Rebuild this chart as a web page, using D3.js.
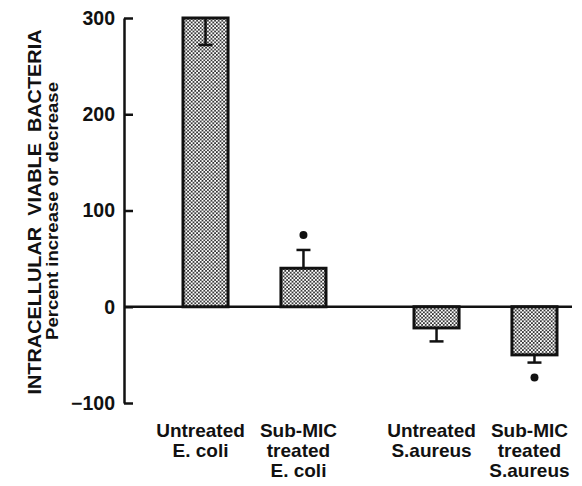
<!DOCTYPE html>
<html><head><meta charset="utf-8">
<script src="https://cdn.jsdelivr.net/npm/d3@7"></script>
<style>html,body{margin:0;padding:0;background:#fff;}svg{display:block;}</style>
</head><body>
<script>
// ---- data ----
const groups = ["E. coli", "S. aureus"];
const treatments = ["Untreated", "Sub-MIC treated"];
const categories = ["Untreated E. coli", "Sub-MIC treated E. coli", "Untreated S. aureus", "Sub-MIC treated S. aureus"];
const categoryGroup = ["E. coli", "E. coli", "S. aureus", "S. aureus"];
const categoryTreatment = ["Untreated", "Sub-MIC treated", "Untreated", "Sub-MIC treated"];
const values = [300, 40, -22, -50];
const errorEnds = [272, 59, -36, -58];
const significant = [false, true, false, true];
const labelLines = [["Untreated", "E. coli"], ["Sub-MIC", "treated", "E. coli"], ["Untreated", "S.aureus"], ["Sub-MIC", "treated", "S.aureus"]];
const yTicks = [-100, 0, 100, 200, 300];
const yTitle = "INTRACELLULAR  VIABLE  BACTERIA";
const ySubtitle = "Percent increase or decrease";

const W = 582, H = 486;
const svg = d3.select("body").append("svg").attr("width", W).attr("height", H);

const defs = svg.append("defs");
const pat = defs.append("pattern").attr("id", "stipple").attr("patternUnits", "userSpaceOnUse")
  .attr("width", 3.6).attr("height", 3.6);
pat.append("rect").attr("width", 3.6).attr("height", 3.6).attr("fill", "#fff");
pat.append("circle").attr("cx", 0.9).attr("cy", 0.9).attr("r", 0.95).attr("fill", "#1a1a1a");
pat.append("circle").attr("cx", 2.7).attr("cy", 2.7).attr("r", 0.95).attr("fill", "#1a1a1a");

const y = d3.scaleLinear().domain([-100, 300]).range([403, 18]);
const xGroup = d3.scaleBand().domain(groups).range([183, 557]).paddingInner(0.381).paddingOuter(0);
const xInner = d3.scaleBand().domain(treatments).range([0, xGroup.bandwidth()]).paddingInner(0.54).paddingOuter(0);
const xPos = i => xGroup(categoryGroup[i]) + xInner(categoryTreatment[i]);
const bw = xInner.bandwidth();
const axisX = 124;

// y axis
const yAxis = d3.axisLeft(y).tickValues(yTicks).tickSizeInner(-9).tickSizeOuter(0).tickPadding(9).tickFormat(d3.format("d"));
const gA = svg.append("g").attr("transform", `translate(${axisX},0)`).call(yAxis);
gA.select(".domain").attr("stroke", "#111").attr("stroke-width", 2.5);
gA.selectAll(".tick line").attr("stroke", "#111").attr("stroke-width", 2.5);
gA.selectAll(".tick text").attr("font-family", "Liberation Sans, Arial, sans-serif")
  .attr("font-weight", "bold").attr("font-size", 19.5).attr("fill", "#111");

// zero line
svg.append("line").attr("x1", axisX).attr("x2", 572).attr("y1", y(0)).attr("y2", y(0))
  .attr("stroke", "#111").attr("stroke-width", 2.5);

// bars
const idx = d3.range(categories.length);
svg.append("g").selectAll("rect").data(idx).join("rect")
  .attr("x", i => xPos(i)).attr("width", bw)
  .attr("y", i => Math.min(y(values[i]), y(0)))
  .attr("height", i => Math.abs(y(values[i]) - y(0)))
  .attr("fill", "url(#stipple)").attr("stroke", "#111").attr("stroke-width", 3);

// error bars
const eg = svg.append("g").attr("stroke", "#111").attr("stroke-width", 2.5);
idx.forEach(i => {
  const cx = xPos(i) + bw / 2;
  eg.append("line").attr("x1", cx).attr("x2", cx).attr("y1", y(values[i])).attr("y2", y(errorEnds[i]));
  eg.append("line").attr("x1", cx - 7).attr("x2", cx + 7).attr("y1", y(errorEnds[i])).attr("y2", y(errorEnds[i]));
  if (significant[i]) {
    const dir = errorEnds[i] >= values[i] ? -1 : 1;
    svg.append("circle").attr("cx", cx).attr("cy", y(errorEnds[i]) + dir * 15).attr("r", 4).attr("fill", "#111");
  }
});

// x labels
const lg = svg.append("g").attr("font-family", "Liberation Sans, Arial, sans-serif")
  .attr("font-weight", "bold").attr("font-size", 19).attr("fill", "#111").attr("text-anchor", "middle");
idx.forEach(i => {
  const cx = xPos(i) + bw / 2 - 5;
  labelLines[i].forEach((t, k) => {
    lg.append("text").attr("x", cx).attr("y", 437 + k * 20).text(t);
  });
});

// y titles
svg.append("text").attr("transform", "translate(41,212) rotate(-90)")
  .attr("text-anchor", "middle").attr("font-family", "Liberation Sans, Arial, sans-serif")
  .attr("font-weight", "bold").attr("font-size", 19).attr("fill", "#111")
  .attr("textLength", 365).attr("lengthAdjust", "spacingAndGlyphs").style("white-space", "pre").text(yTitle);
svg.append("text").attr("transform", "translate(58,211) rotate(-90)")
  .attr("text-anchor", "middle").attr("font-family", "Liberation Sans, Arial, sans-serif")
  .attr("font-weight", "bold").attr("font-size", 16).attr("fill", "#111")
  .attr("textLength", 258).attr("lengthAdjust", "spacingAndGlyphs").text(ySubtitle);
</script>
</body></html>
